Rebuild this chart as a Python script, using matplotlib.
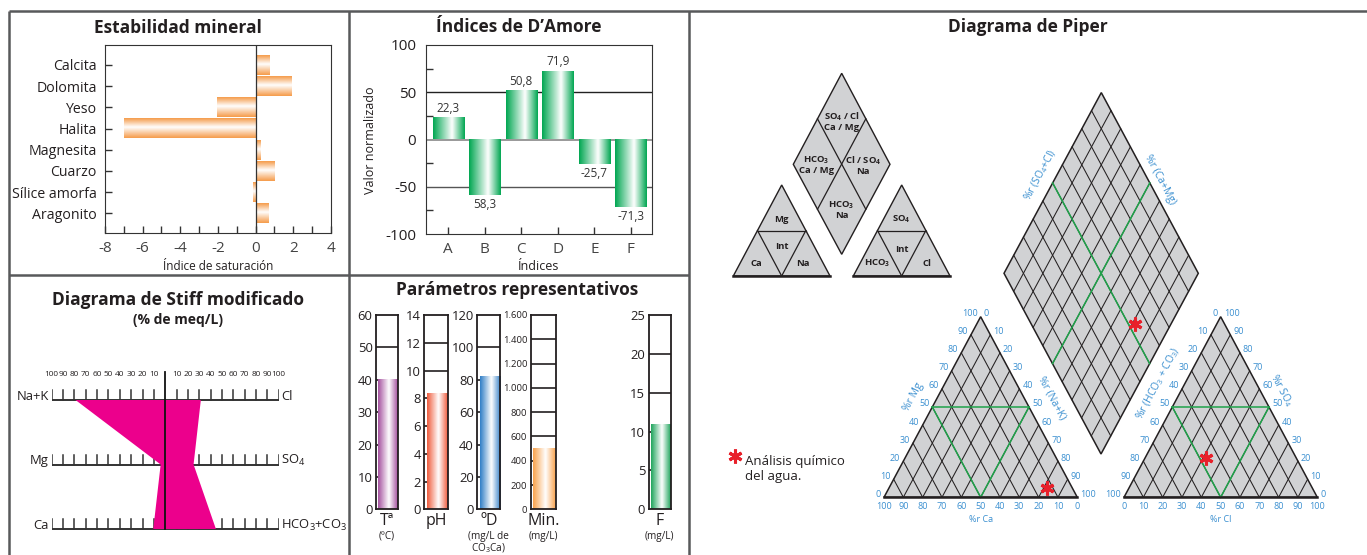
import numpy as np
import matplotlib
matplotlib.use('Agg')
import matplotlib.pyplot as plt
from matplotlib.colors import LinearSegmentedColormap
from matplotlib.patches import Polygon
from matplotlib import font_manager

W, H = 1367, 555

# ---------------- data ----------------
minerals = ['Calcita', 'Dolomita', 'Yeso', 'Halita', 'Magnesita', 'Cuarzo', 'Sílice amorfa', 'Aragonito']
saturation = [0.72, 1.9, -2.07, -7.0, 0.25, 1.0, -0.12, 0.67]

damore_idx = ['A', 'B', 'C', 'D', 'E', 'F']
damore_val = [22.3, -58.3, 50.8, 71.9, -25.7, -71.3]
damore_lbl = ['22,3', '58,3', '50,8', '71,9', '-25,7', '-71,3']

stiff_cations = ['Na+K', 'Mg', 'Ca']
stiff_anions = ['Cl', 'SO$_4$', 'HCO$_3$+CO$_3$']
stiff_cat_val = [79, 4, 10.5]
stiff_an_val = [31.4, 25, 44.7]
stiff_scale = list(range(10, 101, 10))

param_names = ['Tª', 'pH', 'ºD', 'Min.', 'F']
param_units = ['(ºC)', '', '(mg/L de\nCO$_3$Ca)', '(mg/L)', '(mg/L)']
param_vals = [40, 8.3, 82, 500, 10.9]
param_max = [60, 14, 120, 1600, 25]
param_step = [10, 2, 20, 200, 5]

# piper, % meq/L
cat_ca, cat_mg, cat_nak = 13.2, 5.3, 81.5
an_hco3, an_so4, an_cl = 46.8, 21.9, 31.3
ternary_ticks = list(range(0, 101, 10))


def pick(name, fallback):
    try:
        font_manager.findfont(name, fallback_to_default=False)
        return name
    except Exception:
        return fallback


MAIN = pick('Open Sans', 'DejaVu Sans')
NARROW = pick('Liberation Sans Narrow', MAIN)
NS = 1.0 if NARROW != MAIN else 0.85   # shrink if no narrow face

plt.rcParams['font.family'] = [MAIN, 'DejaVu Sans']
plt.rcParams['mathtext.default'] = 'regular'
plt.rcParams['axes.unicode_minus'] = False

TXT = '#231F20'
BORDER = '#58595B'
GRAY = '#D1D2D4'
GREEN_LINE = '#1FA24A'
BLUE = '#3A8FD0'
STAR = '#E8202A'

fig = plt.figure(figsize=(W / 100, H / 100), dpi=100)
ax0 = fig.add_axes([0, 0, 1, 1])
ax0.set_xlim(0, W)
ax0.set_ylim(H, 0)
ax0.axis('off')


def px_axes(x0, y0, x1, y1):
    ax = fig.add_axes([x0 / W, 1 - y1 / H, (x1 - x0) / W, (y1 - y0) / H])
    ax.set_facecolor('none')
    return ax


def grad_cmap(color, peak=0.58):
    return LinearSegmentedColormap.from_list('g', [(0, color), (peak, 'white'), (1, color)])


def gbar(ax, x0, x1, y0, y1, cmap, vertical=True, z=2):
    g = np.linspace(0, 1, 128)
    img = g.reshape(1, -1) if vertical else g.reshape(-1, 1)
    ax.imshow(img, extent=(x0, x1, y0, y1), cmap=cmap, aspect='auto',
              origin='lower', zorder=z, interpolation='bicubic')


def ptext(x, y, s, **kw):
    kw.setdefault('color', TXT)
    kw.setdefault('ha', 'center')
    kw.setdefault('va', 'center')
    ax0.text(x, y, s, **kw)


# ---------------- panel borders ----------------
for xs, ys in [([8.5, W], [11, 11]), ([8.5, 8.5], [11, H]), ([348.5, 348.5], [11, H]),
               ([689, 689], [11, H]), ([8.5, 689], [275, 275])]:
    ax0.plot(xs, ys, color=BORDER, lw=1.8, solid_capstyle='butt')

# ---------------- Estabilidad mineral ----------------
ptext(178.3, 28, 'Estabilidad mineral', fontsize=12.5, fontweight='bold')
ax1 = px_axes(105, 45, 331, 233)
org = grad_cmap('#F59A48', 0.45)
for i, v in enumerate(saturation):
    gbar(ax1, min(0, v), max(0, v), i - 0.47, i + 0.47, org, vertical=False)
ax1.axvline(0, color='#333333', lw=0.9, zorder=3)
ax1.set_xlim(-8, 4)
ax1.set_ylim(len(minerals) - 1 + 0.93, -0.94)
ax1.set_xticks(range(-8, 5, 2))
ax1.set_xticks(range(-7, 4, 2), minor=True)
ax1.set_yticks(range(len(minerals)))
ax1.set_yticklabels(minerals)
ax1.tick_params(which='both', direction='in', length=5, width=1, color='#333333',
                labelsize=10.2, labelcolor=TXT)
ax1.tick_params(axis='x', pad=6, labelsize=11, labelcolor='#444444')
ax1.tick_params(axis='y', pad=6)
for sp in ax1.spines.values():
    sp.set_color('#333333')
ptext(218, 267, 'Índice de saturación', fontsize=8.5)

# ---------------- Indices de D'Amore ----------------
ptext(518.3, 27, 'Índices de D’Amore', fontsize=12.5, fontweight='bold')
ax2 = px_axes(426, 45, 652, 234)
grn = grad_cmap('#00A651', 0.6)
for i, v in enumerate(damore_val):
    gbar(ax2, i - 0.43, i + 0.43, min(0, v), max(0, v), grn)
    ax2.text(i, v + (10.5 if v > 0 else -10.5), damore_lbl[i], ha='center', va='center',
             fontsize=8.5, color='#333333')
ax2.axhline(50, color='#222222', lw=1, zorder=1)
ax2.axhline(-50, color='#555555', lw=1, zorder=1)
ax2.axhline(0, color='#888888', lw=1.2, zorder=1)
ax2.set_xlim(-0.61, 5.58)
ax2.set_ylim(-100, 100)
ax2.set_xticks(range(len(damore_idx)))
ax2.set_xticklabels(damore_idx)
ax2.set_yticks([-100, -50, 0, 50, 100])
ax2.set_yticks([-75, -25, 25, 75], minor=True)
ax2.tick_params(which='both', direction='in', length=5, width=1, color='#333333',
                labelsize=11, labelcolor=TXT)
ax2.tick_params(axis='y', which='major', length=0, pad=7)
ax2.tick_params(axis='x', pad=6, labelcolor='#444444')
for sp in ax2.spines.values():
    sp.set_color('#333333')
ptext(539, 267, 'Índices', fontsize=9)
ptext(370, 140, 'Valor normalizado', fontsize=9, rotation=90)

# ---------------- Stiff ----------------
ptext(178.3, 300, 'Diagrama de Stiff modificado', fontsize=12.5, fontweight='bold')
ptext(178.3, 320, '(% de meq/L)', fontsize=10, fontweight='bold')
ax3 = px_axes(51.7, 360, 278.7, 540)
ax3.set_xlim(-100, 100)
ax3.set_ylim(2.17, -0.62)
ax3.axis('off')
levels = np.arange(len(stiff_cations))
for lv in levels:
    ax3.plot([-100, 100], [lv, lv], color='#333333', lw=1.4, zorder=1)
    for t in stiff_scale:
        for s in (-1, 1):
            ax3.plot([s * t, s * t], [lv, lv - 0.155], color='#333333', lw=1.1, zorder=1)
poly_x = [-v for v in stiff_cat_val] + stiff_an_val[::-1]
poly_y = list(levels) + list(levels[::-1])
ax3.fill(poly_x, poly_y, color='#EC008C', lw=0, zorder=2)
ax3.plot([0, 0], [-0.44, levels[-1]], color='#111111', lw=1.3, zorder=3, clip_on=False)
for t in stiff_scale:
    for s in (-1, 1):
        ax3.text(s * t, -0.39, str(t), ha='center', va='center', fontsize=7 * NS,
                 family=NARROW, color=TXT)
for lv, lab in zip(levels, stiff_cations):
    ax3.text(-102.5, lv - 0.06, lab, ha='right', va='center', fontsize=11 * NS, family=NARROW, color=TXT)
for lv, lab in zip(levels, stiff_anions):
    ax3.text(102, lv - 0.06, lab, ha='left', va='center', fontsize=11 * NS, family=NARROW, color=TXT)

# ---------------- Parametros representativos ----------------
ptext(516.7, 290, 'Parámetros representativos', fontsize=12.5, fontweight='bold')
box_x = [(376, 398.3), (424.3, 448.3), (477.3, 500.3), (530.7, 556), (648.7, 671)]
par_colors = ['#A4509E', '#EF5B3C', '#2F7DC6', '#F9A24B', '#1EA45B']


def fmt(v):
    return f'{int(v):,}'.replace(',', '.')


for k, (x0, x1) in enumerate(box_x):
    ax = px_axes(x0, 315, x1, 509.3)
    ticks = np.arange(0, param_max[k] + param_step[k] / 2, param_step[k])
    for t in ticks[1:-1]:
        ax.axhline(t, color=TXT, lw=1.2, zorder=1)
    gbar(ax, 0.1, 0.97, 0, param_vals[k], grad_cmap(par_colors[k], 0.55), z=2)
    ax.set_xlim(0, 1)
    ax.set_ylim(0, param_max[k])
    ax.set_xticks([])
    ax.set_yticks(ticks)
    ax.set_yticklabels([fmt(t) for t in ticks])
    lsize = (8 if param_max[k] >= 1000 else 11) * NS
    ax.tick_params(axis='y', length=0, pad=2.5, labelsize=lsize, labelcolor=TXT)
    for lab in ax.get_yticklabels():
        lab.set_family(NARROW)
    for sp in ax.spines.values():
        sp.set_linewidth(1.3)
        sp.set_color(TXT)
    cx = (x0 + x1) / 2
    ptext(cx, 521, param_names[k], fontsize=11.5)
    for j, ln in enumerate(param_units[k].split('\n')):
        if ln:
            ptext(cx, 536 + 12 * j, ln, fontsize=8.5 * NS, family=NARROW)

# ---------------- Piper ----------------
ptext(1028, 27, 'Diagrama de Piper', fontsize=12.5, fontweight='bold')

# schematic key
sch_dia = [(841.7, 73.3), (793.3, 164.3), (841.7, 254.3), (890, 164.3)]
ax0.add_patch(Polygon(sch_dia, closed=True, fc=GRAY, ec=TXT, lw=1))


def mid(a, b):
    return ((a[0] + b[0]) / 2, (a[1] + b[1]) / 2)


for a, b in [(mid(sch_dia[0], sch_dia[1]), mid(sch_dia[3], sch_dia[2])),
             (mid(sch_dia[0], sch_dia[3]), mid(sch_dia[1], sch_dia[2]))]:
    ax0.plot([a[0], b[0]], [a[1], b[1]], color=TXT, lw=0.9)
for tri in [[(733.3, 276), (830, 276), (781.7, 185)], [(853.3, 276), (950, 276), (901.7, 185)]]:
    ax0.add_patch(Polygon(tri, closed=True, fc=GRAY, ec=TXT, lw=1))
    ax0.plot([tri[0][0], tri[1][0]], [tri[0][1], tri[1][1]], color=TXT, lw=1.8)
    ml, mr, mb = mid(tri[0], tri[2]), mid(tri[1], tri[2]), mid(tri[0], tri[1])
    for a, b in [(ml, mr), (ml, mb), (mr, mb)]:
        ax0.plot([a[0], b[0]], [a[1], b[1]], color=TXT, lw=0.9)
sk = dict(fontsize=6.8, fontweight='bold', linespacing=1.0)
ptext(841.7, 121.7, 'SO$_4$ / Cl\nCa / Mg', **sk)
ptext(816.7, 165, 'HCO$_3$\nCa / Mg', **sk)
ptext(863.3, 165, 'Cl / SO$_4$\nNa', **sk)
ptext(841.7, 210, 'HCO$_3$\nNa', **sk)
ptext(781.7, 219.3, 'Mg', **sk)
ptext(781.7, 246.7, 'Int', **sk)
ptext(756.7, 263.3, 'Ca', **sk)
ptext(803.3, 263.3, 'Na', **sk)
ptext(901.7, 219.3, 'SO$_4$', **sk)
ptext(901.7, 249, 'Int', **sk)
ptext(877, 263.3, 'HCO$_3$', **sk)
ptext(926.7, 263.3, 'Cl', **sk)

# legend
ax0.plot(735, 456, marker=(6, 2, 0), ms=10, mew=2.2, color=STAR)
ptext(745, 469, 'Análisis químico\ndel agua.', fontsize=9.5, ha='left', linespacing=1.15)

TW, TH = 193.3, 180.6
cat_org = (884, 497.3)
an_org = (1124, 497.3)


def tern(origin, right, top):
    return origin[0] + TW * (right + top / 2) / 100, origin[1] - TH * top / 100


def seg(p, q, **kw):
    ax0.plot([p[0], q[0]], [p[1], q[1]], **kw)


def draw_triangle(origin, left_lab, right_lab, bottom_lab):
    corners = [tern(origin, 0, 0), tern(origin, 100, 0), tern(origin, 0, 100)]
    ax0.add_patch(Polygon(corners, closed=True, fc=GRAY, ec=TXT, lw=1.1))
    for k in range(10, 100, 10):
        seg(tern(origin, k, 0), tern(origin, k, 100 - k), color=TXT, lw=0.75)
        seg(tern(origin, 100 - k, 0), tern(origin, 0, 100 - k), color=TXT, lw=0.75)
    gk = dict(color=GREEN_LINE, lw=1.1)
    seg(tern(origin, 0, 50), tern(origin, 50, 50), **gk)
    seg(tern(origin, 0, 50), tern(origin, 50, 0), **gk)
    seg(tern(origin, 50, 50), tern(origin, 50, 0), **gk)
    seg(corners[0], corners[1], color=TXT, lw=1.8)
    tk = dict(fontsize=6.5, color=BLUE)
    for v in ternary_ticks:
        x, y = tern(origin, 0, v)
        ptext(x - 3, y - 3, str(left_lab(v)), ha='right', **tk)
        x, y = tern(origin, 100 - v, v)
        ptext(x + 3, y - 3, str(right_lab(v)), ha='left', **tk)
        x, y = tern(origin, v, 0)
        ptext(x, y + 9, str(bottom_lab(v)), **tk)


draw_triangle(cat_org, lambda v: v, lambda v: 100 - v, lambda v: 100 - v)
draw_triangle(an_org, lambda v: 100 - v, lambda v: v, lambda v: v)

at = dict(fontsize=7.5, color=BLUE)
ptext(913.3, 396.7, '%r Mg', rotation=61.8, **at)
ptext(1051.7, 398.3, '%r (Na+K)', rotation=-61.8, **at)
ptext(980.7, 519.5, '%r Ca', fontsize=6.5, color=BLUE)
ptext(1158.3, 383.3, '%r (HCO$_3$ + CO$_3$)', rotation=61.8, **at)
ptext(1281.7, 390, '%r SO$_4$', rotation=-61.8, **at)
ptext(1220.7, 519.5, '%r Cl', fontsize=6.5, color=BLUE)

# central diamond
B = np.array([1101, 454])
e1 = np.array([-97, -180.7])
e2 = np.array([97.3, -180.7])


def dia(cam, socl):
    return B + e1 * cam / 100 + e2 * socl / 100


ax0.add_patch(Polygon([dia(0, 0), dia(100, 0), dia(100, 100), dia(0, 100)], closed=True,
                      fc=GRAY, ec=TXT, lw=1.1))
for k in range(10, 100, 10):
    seg(dia(k, 0), dia(k, 100), color=TXT, lw=0.75)
    seg(dia(0, k), dia(100, k), color=TXT, lw=0.75)
seg(dia(50, 0), dia(50, 100), color=GREEN_LINE, lw=1.1)
seg(dia(0, 50), dia(100, 50), color=GREEN_LINE, lw=1.1)
ptext(1040, 175, '%r (SO$_4$+Cl)', rotation=61.8, **at)
ptext(1160, 180, '%r (Ca+Mg)', rotation=-61.8, **at)

# sample points
sm = dict(marker=(6, 2, 0), ms=10, mew=2.2, color=STAR, zorder=5)
ax0.plot(*tern(cat_org, cat_nak, cat_mg), **sm)
ax0.plot(*tern(an_org, an_cl, an_so4), **sm)
ax0.plot(*dia(cat_ca + cat_mg, an_so4 + an_cl), **sm)

fig.savefig('out.png', dpi=100)
